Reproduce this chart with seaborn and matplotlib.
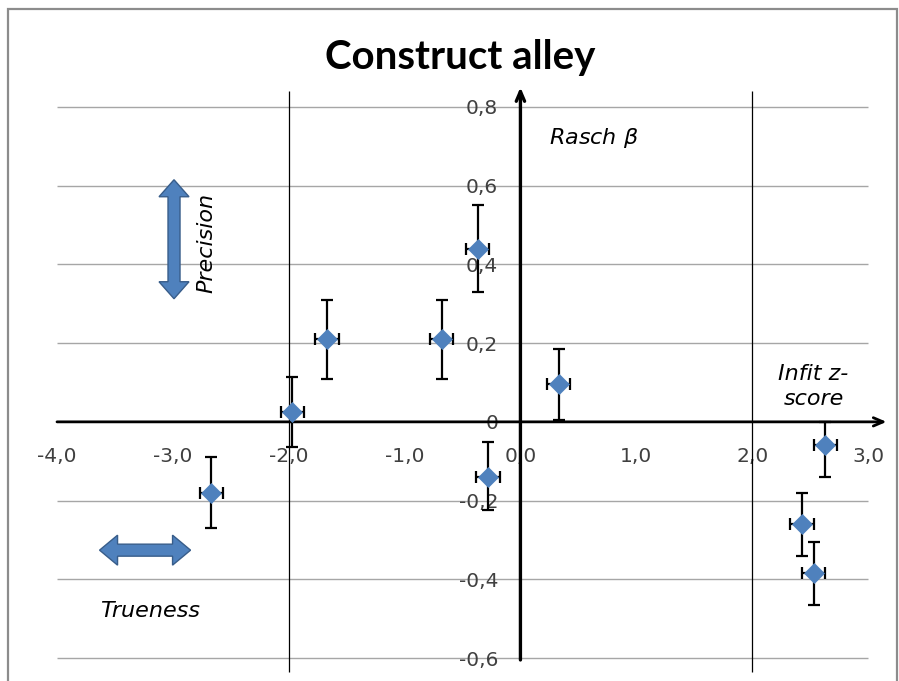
import matplotlib
matplotlib.use("Agg")
import matplotlib.pyplot as plt
import matplotlib.patches as mpatches
import matplotlib.transforms as mtransforms
import seaborn as sns
import pandas as pd

# Data (Infit z-score vs Rasch beta)
infit_z = [-2.67, -1.97, -1.67, -0.68, -0.37, -0.28, 0.33, 2.63, 2.43, 2.53]
rasch_beta = [-0.18, 0.025, 0.21, 0.21, 0.44, -0.14, 0.095, -0.06, -0.26, -0.385]
beta_err_low = [0.09, 0.09, 0.10, 0.10, 0.11, 0.085, 0.09, 0.08, 0.08, 0.08]
beta_err_high = [0.09, 0.09, 0.10, 0.10, 0.11, 0.09, 0.09, 0.06, 0.08, 0.08]
z_err = [0.1, 0.1, 0.1, 0.1, 0.1, 0.1, 0.1, 0.1, 0.1, 0.1]

x_ticks = [-4.0, -3.0, -2.0, -1.0, 0.0, 1.0, 2.0, 3.0]
y_ticks = [-0.6, -0.4, -0.2, 0.0, 0.2, 0.4, 0.6, 0.8]
boundaries = [-2.0, 2.0]

df = pd.DataFrame({"z": infit_z, "beta": rasch_beta})

sns.set_style("white")
plt.rcParams["font.family"] = ["DejaVu Sans"]

blue = "#4F81BD"
fig = plt.figure(figsize=(8.99, 6.81), dpi=100)
ax = fig.add_axes([57 / 899, 1 - 658 / 681, (868 - 57) / 899, (658 - 107) / 681])
ax.set_xlim(-4.0, 3.0)
ax.set_ylim(-0.6, 0.8)

# horizontal gridlines
ax.hlines([v for v in y_ticks if v != 0], -4.0, 3.0, color="#A6A6A6", lw=1.0,
          zorder=0, clip_on=False)
# vertical boundary lines
ax.vlines(boundaries, -0.635, 0.84, color="black", lw=0.9, zorder=1, clip_on=False)

# axes with arrows through origin
for sp in ax.spines.values():
    sp.set_visible(False)
ax.spines["left"].set_position(("data", 0))
ax.spines["bottom"].set_position(("data", 0))
ax.annotate("", xy=(3.16, 0), xytext=(-4.0, 0), annotation_clip=False,
            arrowprops=dict(arrowstyle="->,head_length=0.7,head_width=0.3",
                            lw=2.0, color="black", shrinkA=0, shrinkB=0), zorder=2)
ax.annotate("", xy=(0, 0.85), xytext=(0, -0.605), annotation_clip=False,
            arrowprops=dict(arrowstyle="->,head_length=0.7,head_width=0.3",
                            lw=2.4, color="black", shrinkA=0, shrinkB=0), zorder=2)

# ticks
ax.set_xticks(x_ticks)
ax.set_yticks(y_ticks)
ax.set_xticklabels([f"{v:.1f}".replace(".", ",") for v in x_ticks])
ax.set_yticklabels(["0" if v == 0 else f"{v:.1f}".replace(".", ",") for v in y_ticks])
ax.tick_params(axis="x", direction="out", length=5, width=1, color="#A6A6A6",
               pad=13, labelsize=14.5, labelcolor="#404040")
ax.tick_params(axis="y", length=0, pad=16, labelsize=14.5, labelcolor="#404040")
for lab in ax.get_yticklabels():
    lab.set_verticalalignment("center_baseline")

# error bars + markers
ax.errorbar(infit_z, rasch_beta, yerr=[beta_err_low, beta_err_high], xerr=z_err,
            fmt="none", ecolor="black", elinewidth=1.6, capsize=4.5, capthick=1.6, zorder=3)
sns.scatterplot(data=df, x="z", y="beta", marker="D", s=115, color=blue,
                linewidth=0, ax=ax, zorder=4)
ax.set_xlabel("")
ax.set_ylabel("")

# block double arrows (sizes in inches, anchored in data coords)
def double_arrow(cx, cy, length, shaft, head_w, head_l, vertical):
    L, s, w, h = length / 2, shaft / 2, head_w / 2, head_l
    pts = [(-L, 0), (-L + h, w), (-L + h, s), (L - h, s), (L - h, w), (L, 0),
           (L - h, -w), (L - h, -s), (-L + h, -s), (-L + h, -w)]
    if vertical:
        pts = [(b, a) for a, b in pts]
    trans = fig.dpi_scale_trans + mtransforms.ScaledTranslation(cx, cy, ax.transData)
    ax.add_patch(mpatches.Polygon(pts, closed=True, transform=trans, facecolor=blue,
                                  edgecolor="#385D8A", lw=1.0, zorder=5, clip_on=False))

double_arrow(-2.99, 0.464, 1.19, 0.12, 0.30, 0.17, vertical=True)
double_arrow(-3.24, -0.326, 0.91, 0.12, 0.30, 0.18, vertical=False)

# annotations
txt = dict(fontsize=16, style="italic", color="black")
ax.text(0.25, 0.72, "Rasch $\\beta$", ha="left", va="center", **txt)
ax.text(-2.71, 0.455, "Precision", rotation=90, ha="center", va="center", **txt)
ax.text(2.53, 0.09, "Infit z-\nscore", ha="center", va="center", linespacing=1.3, **txt)
ax.text(-3.2, -0.48, "Trueness", ha="center", va="center", **txt)

fig.text(0.512, 0.916, "Construct alley", fontsize=29, fontweight="bold", color="black",
         family=["Lato", "DejaVu Sans"], ha="center", va="center")

# chart border
fig.add_artist(mpatches.Rectangle((8 / 899, -0.01), (897 - 8) / 899, 1 - 9 / 681 + 0.01,
                                  transform=fig.transFigure, fill=False,
                                  edgecolor="#8C8C8C", lw=1.6))

fig.savefig("out.png", dpi=100)
